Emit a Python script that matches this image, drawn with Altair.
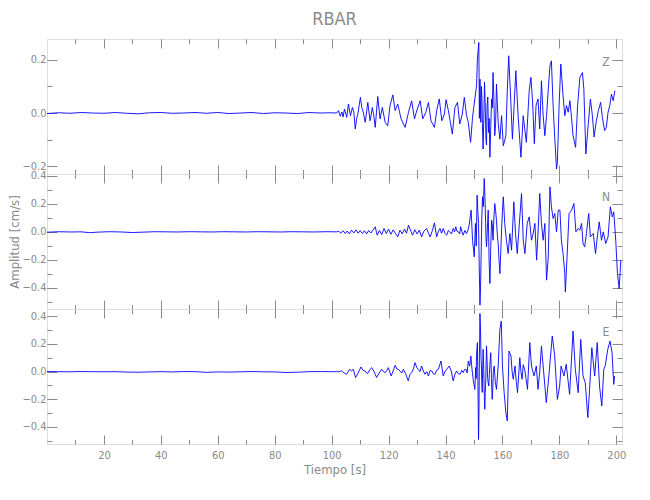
import altair as alt
import pandas as pd

GREY = "#8a8a8a"
FONT = "Liberation Sans Narrow, DejaVu Sans Condensed, Liberation Sans, sans-serif"
BLUE = "#0000ff"

X_DOMAIN = [0, 202]
X_MAJOR = [20, 40, 60, 80, 100, 120, 140, 160, 180, 200]
X_MINOR = [10, 20, 30, 40, 50, 60, 70, 80, 90, 100, 110, 120, 130, 140, 150, 160, 170, 180, 190, 200]

Z_DOMAIN = [-0.229, 0.278]
Z_MAJOR = [-0.2, 0.0, 0.2]
Z_MINOR = [-0.2, -0.1, 0.0, 0.1, 0.2]
N_DOMAIN = [-0.551, 0.413]
E_DOMAIN = [-0.523, 0.453]
NE_MAJOR = [-0.4, -0.2, 0.0, 0.2, 0.4]
NE_MINOR = [-0.5, -0.4, -0.3, -0.2, -0.1, 0.0, 0.1, 0.2, 0.3, 0.4]

# (time [s], amplitude [cm/s])
Z_TRACE = [
    (0, -0.002), (4, 0.001), (8, -0.001), (12, 0.002), (16, 0.0), (20, -0.001), (24, 0.002),
    (28, -0.001), (32, -0.003), (36, 0.001), (40, 0.002), (44, -0.001), (48, 0.0), (52, 0.002),
    (56, -0.001), (60, 0.002), (64, -0.002), (68, 0.0), (72, 0.002), (76, -0.002), (80, 0.001),
    (84, 0.0), (88, -0.002), (92, 0.002), (96, 0.0), (100, 0.001), (101.8, 0.0),
    (102.4, 0.009), (103.0, -0.012), (103.6, 0.004), (104.0, -0.015), (104.5, 0.015), (105.3, -0.016),
    (105.9, 0.034), (106.6, -0.010), (107.3, 0.021), (107.8, 0.002), (108.3, -0.060), (108.8, -0.020),
    (109.2, -0.004), (110.1, 0.059), (110.6, 0.020), (111.1, 0.003), (111.8, -0.035), (112.7, 0.040),
    (113.5, -0.029), (114.3, 0.021), (114.8, -0.010), (115.3, -0.054), (116.2, 0.062), (117.0, -0.022),
    (117.8, 0.021), (118.8, -0.035), (119.7, -0.048), (120.5, 0.028), (121.5, 0.068), (122.3, 0.009),
    (123.2, 0.034), (124.4, -0.022), (125.8, -0.054), (127.0, 0.003), (128.1, 0.046), (129.1, -0.022),
    (129.9, 0.009), (131.1, 0.046), (132.0, -0.022), (133.1, 0.003), (134.0, 0.040), (134.9, -0.029),
    (136.1, -0.054), (136.9, 0.009), (137.8, 0.053), (138.7, -0.029), (139.6, -0.004), (140.2, 0.050),
    (141.0, 0.009), (141.5, -0.022), (142.4, -0.079), (143.3, 0.021), (144.2, 0.040), (145.0, -0.041),
    (145.9, -0.004), (146.6, 0.059), (147.4, -0.010), (148.0, -0.035), (148.8, -0.110), (149.5, -0.016),
    (150.3, 0.053), (150.9, 0.102), (151.2, 0.203), (151.7, 0.265), (152.1, 0.127), (152.4, -0.035),
    (152.8, 0.053), (153.2, -0.135), (153.7, 0.115), (154.2, -0.098), (154.6, 0.028), (155.1, -0.073),
    (155.6, -0.166), (156.2, 0.053), (156.7, 0.152), (157.3, -0.085), (157.9, 0.109), (158.5, -0.035),
    (159.1, -0.098), (159.7, -0.010), (160.3, -0.123), (161.2, -0.085), (161.7, 0.084), (162.2, 0.215),
    (162.8, 0.078), (163.5, -0.098), (164.1, 0.028), (164.7, 0.159), (165.5, -0.010), (166.5, -0.166),
    (167.3, -0.010), (167.9, -0.066), (168.4, -0.110), (169.4, 0.084), (170.0, 0.134), (170.6, 0.040),
    (171.2, -0.115), (171.8, 0.028), (172.5, 0.053), (173.1, -0.060), (173.7, 0.121), (174.3, -0.010),
    (174.9, -0.085), (175.5, -0.010), (176.1, 0.090), (176.7, 0.178), (177.2, 0.196), (177.8, 0.028),
    (178.4, -0.098), (179.0, -0.210), (179.3, -0.185), (179.9, 0.028), (180.5, 0.184), (181.3, 0.065),
    (181.9, -0.010), (182.5, 0.028), (183.1, 0.003), (183.7, 0.046), (184.3, -0.022), (184.8, -0.085),
    (185.7, -0.129), (186.4, 0.028), (187.2, 0.134), (188.1, 0.152), (188.6, 0.090), (189.3, -0.154),
    (190.1, -0.048), (190.9, 0.052), (191.6, -0.010), (192.2, -0.090), (193.0, -0.029), (193.7, 0.009),
    (194.5, 0.040), (195.1, -0.016), (195.9, -0.066), (196.5, -0.054), (197.1, 0.003), (197.7, 0.028),
    (198.3, 0.071), (198.9, 0.046), (199.5, 0.084),
    # dense high-frequency part of the strong motion
    (151.9, -0.020), (152.6, 0.100), (153.0, -0.060), (153.45, -0.020), (153.95, 0.030),
    (154.4, -0.120), (154.85, 0.060), (155.35, -0.020), (155.9, -0.050), (156.45, 0.020),
    (157.0, 0.050), (157.6, -0.040),
]

N_TRACE = [
    (0, -0.003), (4, 0.001), (8, -0.001), (12, 0.0), (15, -0.006), (18, -0.002), (22, 0.001),
    (26, -0.001), (30, -0.005), (34, -0.002), (38, 0.001), (42, 0.0), (46, -0.001), (50, 0.001),
    (54, 0.0), (58, -0.001), (62, 0.001), (66, 0.0), (70, -0.001), (74, 0.001), (78, 0.0),
    (82, -0.001), (86, 0.001), (90, 0.0), (94, -0.001), (98, 0.001), (101.8, 0.0),
    (102.5, 0.005), (103.2, -0.010), (104.0, 0.008), (104.8, -0.012), (105.5, 0.006), (106.2, -0.015),
    (107.0, 0.012), (107.8, -0.008), (108.5, 0.014), (109.3, -0.010), (110.0, 0.010), (110.8, -0.012),
    (111.5, 0.008), (112.3, -0.015), (113.0, 0.010), (113.8, -0.008), (114.5, 0.012), (115.3, 0.036),
    (116.0, -0.024), (116.8, 0.010), (117.6, -0.020), (118.4, 0.024), (119.2, -0.012), (120.0, 0.020),
    (120.8, -0.018), (121.6, 0.014), (122.4, -0.010), (123.2, -0.036), (124.0, 0.012), (124.8, -0.015),
    (125.6, 0.020), (126.3, -0.010), (127.0, 0.048), (127.8, 0.005), (128.4, -0.024), (129.2, 0.015),
    (130.0, -0.015), (130.8, 0.012), (131.6, -0.036), (132.4, 0.005), (133.4, 0.024), (134.0, -0.010),
    (134.6, -0.036), (135.4, 0.010), (136.1, 0.064), (136.9, -0.036), (137.5, 0.005), (138.1, 0.024),
    (138.6, -0.010), (139.2, 0.024), (139.8, -0.010), (140.4, -0.024), (141.0, 0.010), (141.5, 0.0),
    (142.1, -0.015), (142.7, 0.024), (143.2, 0.0), (143.6, 0.036), (144.0, 0.005), (144.5, 0.0),
    (145.0, -0.015), (145.3, 0.036), (145.8, 0.0), (146.2, -0.024), (146.8, 0.010), (147.4, -0.012),
    (148.0, 0.020), (148.3, 0.048), (149.0, 0.155), (149.5, -0.060), (150.1, -0.179), (150.5, 0.060),
    (151.1, 0.262), (151.6, 0.060), (152.1, -0.524), (152.5, -0.179), (153.0, 0.250), (153.6, 0.381),
    (154.1, 0.060), (154.4, -0.107), (155.0, 0.155), (155.6, -0.369), (156.2, 0.083), (156.7, -0.060),
    (157.3, 0.202), (157.9, 0.083), (158.5, -0.083), (159.1, -0.298), (159.7, 0.012), (160.3, 0.250),
    (160.8, 0.060), (161.4, -0.060), (162.0, -0.155), (162.6, -0.012), (163.2, -0.131), (164.0, 0.214),
    (164.6, -0.012), (165.2, -0.155), (165.9, 0.048), (166.7, 0.274), (167.3, -0.060), (167.9, -0.155),
    (168.7, 0.060), (169.4, 0.107), (170.2, -0.060), (170.8, -0.012), (171.4, 0.060), (172.0, -0.202),
    (172.6, 0.036), (173.1, 0.274), (173.7, 0.060), (174.3, -0.060), (174.9, 0.060), (175.5, -0.345),
    (176.1, -0.179), (176.7, 0.321), (177.2, 0.179), (177.8, 0.095), (178.4, 0.131), (179.0, 0.0),
    (179.6, 0.155), (180.2, 0.155), (180.7, -0.060), (181.3, -0.155), (181.9, -0.298), (182.1, -0.429),
    (182.7, -0.179), (183.4, 0.131), (184.3, 0.155), (185.1, 0.202), (185.8, 0.0), (186.6, 0.024),
    (187.2, 0.012), (187.8, 0.060), (188.3, -0.083), (188.9, -0.107), (189.5, -0.012), (190.3, 0.131),
    (190.9, -0.036), (191.9, -0.012), (192.7, -0.155), (193.4, -0.024), (194.0, 0.071), (194.8, -0.060),
    (195.4, 0.0), (196.3, -0.083), (197.1, -0.036), (197.9, 0.179), (198.6, 0.107), (199.1, 0.143),
    (199.8, -0.060), (200.4, -0.298), (201.0, -0.405), (201.6, -0.202),
    # dense high-frequency part of the strong motion
    (150.8, -0.100), (151.35, 0.150), (151.85, -0.250), (152.3, -0.400), (152.75, 0.100),
    (153.3, 0.180), (153.85, 0.250), (154.25, -0.050), (154.7, 0.020), (155.3, -0.200),
    (155.9, -0.100), (156.45, 0.050), (157.0, 0.100), (157.6, 0.150), (158.2, -0.020),
    (158.8, -0.200), (159.4, -0.150), (160.0, 0.150),
]

E_TRACE = [
    (0, 0.001), (4, 0.0), (8, -0.001), (12, 0.001), (16, 0.0), (20, -0.001), (24, 0.0),
    (28, -0.003), (32, -0.004), (36, -0.002), (40, 0.0), (44, -0.002), (48, 0.001), (52, 0.0),
    (56, -0.005), (60, -0.002), (64, -0.003), (68, -0.001), (72, 0.001), (76, -0.001), (80, -0.002),
    (84, -0.006), (88, -0.004), (92, 0.0), (96, 0.001), (100, 0.0), (101.8, 0.0),
    (102.4, 0.0), (103.5, 0.005), (104.3, -0.008), (105.2, -0.019), (106.3, 0.017), (107.0, 0.005),
    (107.6, 0.017), (108.4, -0.043), (109.3, -0.010), (110.3, 0.034), (111.0, 0.010), (111.7, 0.005),
    (112.6, -0.015), (113.5, 0.017), (114.1, 0.029), (114.9, 0.0), (115.8, -0.043), (116.7, -0.010),
    (117.6, 0.017), (118.2, 0.0), (118.8, -0.007), (119.4, 0.010), (119.9, 0.029), (120.9, -0.031),
    (121.6, 0.005), (122.3, 0.046), (122.9, 0.020), (123.4, 0.017), (124.0, 0.005), (124.6, -0.010),
    (125.2, 0.017), (126.0, -0.015), (126.9, -0.067), (127.5, -0.020), (128.1, -0.007), (128.7, 0.020),
    (129.3, 0.065), (129.9, 0.030), (130.4, 0.017), (131.0, 0.0), (131.6, 0.041), (132.2, 0.005),
    (132.8, -0.019), (133.4, 0.0), (134.0, -0.031), (134.6, 0.010), (135.1, 0.005), (135.7, -0.015),
    (136.3, -0.019), (136.9, 0.010), (137.5, 0.017), (138.4, 0.077), (139.2, -0.031), (139.8, 0.0),
    (140.4, 0.017), (141.3, 0.041), (142.0, 0.005), (142.7, -0.067), (143.3, -0.020), (143.9, 0.005),
    (144.5, -0.015), (145.1, -0.019), (145.7, 0.010), (146.2, -0.007), (146.7, 0.015), (147.2, 0.017),
    (147.6, -0.010), (148.0, 0.077), (148.5, 0.040), (148.9, 0.113), (149.3, 0.020), (149.7, -0.055),
    (150.3, -0.128), (150.6, 0.030), (150.9, 0.125), (151.2, 0.210), (151.4, -0.100), (151.6, -0.490),
    (151.9, 0.100), (152.1, 0.420), (152.3, 0.300), (152.6, 0.041), (152.9, -0.150), (153.2, 0.161),
    (153.5, -0.050), (153.8, -0.272), (154.1, -0.100), (154.4, 0.186), (154.8, -0.050), (155.2, -0.104),
    (155.6, 0.050), (155.9, 0.137), (156.4, -0.200), (156.8, 0.0), (157.1, 0.041), (157.5, -0.080),
    (157.9, -0.128), (158.5, 0.041), (159.1, 0.306), (159.6, 0.366), (160.0, 0.041), (160.6, -0.152),
    (161.2, -0.298), (161.7, -0.356), (162.3, 0.149), (163.0, 0.113), (163.4, 0.0), (163.8, -0.055),
    (164.4, 0.041), (164.9, -0.080), (165.3, -0.152), (166.1, 0.101), (166.5, 0.0), (166.9, -0.055),
    (167.3, 0.050), (167.8, 0.017), (168.3, -0.050), (168.8, -0.128), (169.6, 0.210), (170.2, 0.041),
    (171.1, -0.031), (171.9, 0.041), (172.5, -0.128), (173.1, 0.0), (173.7, 0.185), (174.6, -0.031),
    (175.4, -0.224), (176.3, -0.031), (177.5, 0.258), (178.3, 0.125), (179.3, -0.200), (180.1, -0.104),
    (180.6, 0.041), (181.6, -0.031), (182.4, 0.053), (183.6, -0.164), (184.8, 0.294), (185.6, 0.017),
    (186.6, -0.152), (187.5, 0.233), (188.3, -0.031), (189.1, -0.080), (190.0, -0.332), (190.6, -0.128),
    (191.4, 0.173), (192.4, -0.031), (193.3, 0.210), (194.1, -0.104), (194.9, -0.248), (195.6, 0.017),
    (196.1, 0.041), (197.0, 0.161), (197.8, 0.221), (198.5, 0.137), (199.1, -0.092), (199.4, -0.031),
    # dense high-frequency part of the strong motion
    (150.75, -0.050), (151.05, 0.170), (151.75, -0.300), (152.0, 0.250), (152.45, 0.120),
    (152.75, -0.080), (153.05, 0.020), (153.35, 0.080), (153.65, -0.180), (153.95, -0.150),
    (154.25, 0.050), (154.6, 0.080), (155.0, -0.080), (155.4, -0.020), (155.75, 0.100),
    (156.15, -0.050), (156.6, -0.120), (157.3, -0.020), (157.7, -0.100),
]

CHANNELS = ["Z", "N", "E"]


def axis(orient, values, size, labels=False, fmt=None, title=None, **kw):
    args = dict(
        orient=orient, values=values, tickSize=size, offset=-size, domain=False, grid=False,
        labels=labels, ticks=True, tickColor=GREY, tickWidth=1, labelColor=GREY, labelFont=FONT,
        labelFontSize=11, titleColor=GREY, titleFont=FONT, titleFontSize=13, titleFontWeight="normal",
        title=title,
    )
    if fmt:
        args["format"] = fmt
    args.update(kw)
    return alt.Axis(**args)


def panel(trace, ydom, ymaj, ymin, letter, bottom=False, ytitle=None, title=None):
    df = pd.DataFrame(trace, columns=["t", "v"]).sort_values("t")
    xs = alt.Scale(domain=X_DOMAIN, nice=False, zero=False)
    ys = alt.Scale(domain=ydom, nice=False, zero=False)
    base = alt.Chart(df)
    xbot = dict(labels=True, fmt="d", title="Tiempo [s]", labelPadding=5, titlePadding=3,
                labelFlush=False) if bottom else {}
    ykw = dict(labels=True, fmt=".1f", labelPadding=1, labelFlush=False)
    if ytitle:
        ykw.update(title=ytitle, titlePadding=0)
    line = base.mark_line(color=BLUE, strokeWidth=0.9).encode(
        x=alt.X("t:Q", scale=xs, axis=axis("bottom", X_MAJOR, 9, **xbot)),
        y=alt.Y("v:Q", scale=ys, axis=axis("left", ymaj, 10, **ykw)),
    )
    ghost = base.mark_line(opacity=0)
    top_major = ghost.encode(
        x=alt.X("t:Q", scale=xs, axis=axis("top", X_MAJOR, 9)),
        y=alt.Y("v:Q", scale=ys, axis=axis("right", ymaj, 10)),
    )
    minor_a = ghost.encode(
        x=alt.X("t:Q", scale=xs, axis=axis("bottom", X_MINOR, 4.5)),
        y=alt.Y("v:Q", scale=ys, axis=axis("left", ymin, 5)),
    )
    minor_b = ghost.encode(
        x=alt.X("t:Q", scale=xs, axis=axis("top", X_MINOR, 4.5)),
        y=alt.Y("v:Q", scale=ys, axis=axis("right", ymin, 5)),
    )
    lab = alt.Chart(pd.DataFrame({"c": [letter]})).mark_text(
        color=GREY, font=FONT, fontSize=12, align="center", baseline="middle"
    ).encode(text="c:N", x=alt.value(559), y=alt.value(23))
    props = dict(width=575, height=135)
    if title:
        props["title"] = title
    return alt.layer(line, top_major, minor_a, minor_b, lab).resolve_axis(
        x="independent", y="independent"
    ).properties(**props)


title = alt.Title("RBAR", fontSize=18, font=FONT, color=GREY, fontWeight="normal",
                  anchor="middle", frame="group", offset=10)

pz = panel(Z_TRACE, Z_DOMAIN, Z_MAJOR, Z_MINOR, CHANNELS[0], title=title)
pn = panel(N_TRACE, N_DOMAIN, NE_MAJOR, NE_MINOR, CHANNELS[1], ytitle="Amplitud [cm/s]")
pe = panel(E_TRACE, E_DOMAIN, NE_MAJOR, NE_MINOR, CHANNELS[2], bottom=True)

chart = alt.vconcat(pz, pn, pe, spacing=0, bounds="flush").properties(
    padding={"left": 0, "top": 2, "right": 5, "bottom": 5}
).configure_view(stroke=GREY, strokeWidth=1).configure(background="white")

chart.save("out.html", embed_options={"renderer": "svg", "actions": False})
